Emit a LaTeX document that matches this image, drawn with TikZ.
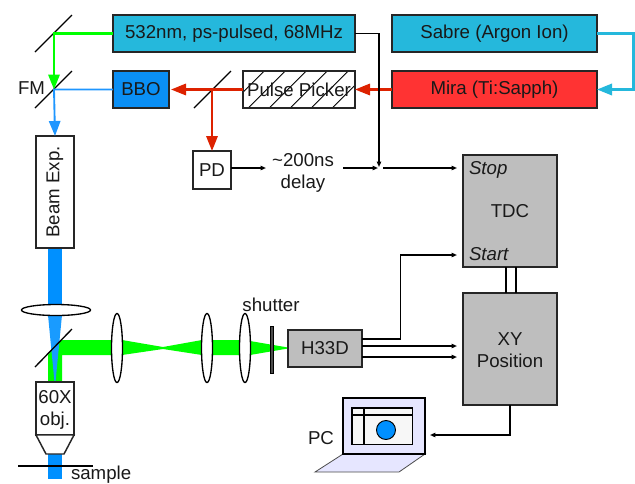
\documentclass[tikz,border=0pt]{standalone}
\usepackage{fontspec}
\setmainfont{Liberation Sans}
\usetikzlibrary{arrows.meta,calc}
\definecolor{lasercyan}{HTML}{25B8DC}
\definecolor{mirared}{HTML}{FF3333}
\definecolor{bboblue}{HTML}{0A8FF5}
\definecolor{beamblue}{HTML}{0090FF}
\definecolor{lineblue}{HTML}{1E96FF}
\definecolor{linered}{HTML}{DD2200}
\definecolor{beamgreen}{HTML}{00FF00}
\definecolor{boxgray}{HTML}{BEBEBE}
\definecolor{lavender2}{HTML}{E6E6FF}
\tikzset{
  x=0.75pt,y=-0.75pt,
  every node/.style={font=\fontsize{14}{16.5}\selectfont,inner sep=0pt,outer sep=0pt,align=center,text=black!90},
  size/.style 2 args={minimum width=#1*0.75pt,minimum height=#2*0.75pt},
  box/.style={draw=black!85,line width=1.1pt,rectangle},
  bigtip/.style={-{Triangle[length=11.25pt,width=8.5pt]}},
  smalltip/.style={-{Triangle[length=4pt,width=3.2pt]},black,line width=1.3pt},
  mirror/.style={black,line width=1pt},
  lens/.style={draw=black,line width=1pt,fill=white},
  wire/.style={black,line width=.9pt},
}
\begin{document}
\begin{tikzpicture}
\useasboundingbox (0,0) rectangle (635,483);
% beams
\fill[beamblue] (48,248) rectangle (62,305);
\fill[beamblue] (48,454) rectangle (62,479);
\fill[beamgreen] (61,340) -- (113,340) -- (113,355) -- (62,355) -- (62,382) -- (48,382) -- (48,355) -- cycle;
\fill[beamgreen] (117,340) -- (122,340) -- (163,347) -- (202,340) -- (245,340) -- (250,341) -- (288,347.5) -- (288,348.5) -- (250,355) -- (245,355) -- (202,355) -- (163,349) -- (122,355) -- (117,355) -- cycle;
\fill[beamblue!90!white] (48,315) -- (62,315) -- (55.5,382) -- (54.5,382) -- cycle;
% boxes
\node[box,size={242}{37},fill=lasercyan] (laser) at (234,33.5) {532nm, ps-pulsed, 68MHz};
\node[box,size={205}{37},fill=lasercyan] (sabre) at (494.5,33.5) {Sabre (Argon Ion)};
\node[box,size={205}{37},fill=mirared] (mira) at (494.5,89.5) {Mira (Ti:Sapph)};
\node[box,size={112}{37},fill=white] (picker) at (299,89.5) {};
\begin{scope}
\clip (243,71) rectangle (355,108);
\foreach \k in {0,...,7} \draw[black,line width=.6pt] ({227.3+21*\k},108) -- ({227.3+21*\k+37},71);
\end{scope}
\node[box,size={112}{37}] (pickerb) at (299,89.5) {Pulse Picker};
\node[box,size={56}{37},fill=bboblue] (bbo) at (141,89.5) {BBO};
\node[box,size={38}{38},fill=white] (pd) at (212,170) {PD};
\node[box,size={112}{38},fill=white,rotate=90] (bexp) at (55,192) {Beam Exp.};
\node[box,size={94}{112},fill=boxgray] (tdc) at (510,211) {TDC};
\node[box,size={94}{112},fill=boxgray,text depth=0pt] (xy) at (510,349) {};
\node[box,size={74}{37},fill=boxgray] (h33d) at (325,348.5) {H33D};
\node[box,size={38}{53},fill=white] (obj) at (55,408.5) {};
\draw[line width=1.1pt,draw=black!85,fill=white] (obj.south west) -- (46,454) -- (64,454) -- (obj.south east) -- cycle;
% labels
\node (xyl) at (510,350) {XY\\Position};
\node (objl) at (55,410) {60X\\obj.};
\node[anchor=west,font=\fontsize{14}{16.5}\selectfont\itshape] (stop) at (469,170) {Stop};
\node[anchor=west,font=\fontsize{14}{16.5}\selectfont\itshape] (start) at (469,254) {Start};
\node (fm) at (31.5,88) {FM};
\node (delay) at (303,172.5) {\textasciitilde200ns\\delay};
\node (shutterl) at (271,305) {shutter};
\node[anchor=west] (samplel) at (71,474.5) {sample};
\node (pcl) at (321,438) {PC};
% mirrors
\draw[mirror] (35,52) -- (72,15);
\draw[mirror] (35,108) -- (72,71);
\draw[mirror] (194,108) -- (231,71);
\draw[mirror] (35,367) -- (72,329);
% lenses
\draw[lens] (56,310) ellipse [x radius=34.5,y radius=5.5];
\draw[lens] (117,348) ellipse [x radius=5.5,y radius=34.5];
\draw[lens] (207,348) ellipse [x radius=5.5,y radius=34.5];
\draw[lens] (245,348) ellipse [x radius=5.5,y radius=34.5];
% shutter and sample
\fill[black!70,draw=black,line width=.4pt] (270,326) rectangle (273,373);
\draw[black,line width=1pt] (18,466) -- (93,466);
% coloured connectors
\coordinate (m1) at (54,33.5);
\coordinate (m2) at (54,89.5);
\coordinate (m3) at (212,89.5);
\draw[beamgreen,line width=1.7pt,bigtip] (laser.west) -- (m1) -- (m2);
\draw[lineblue,line width=1.4pt,bigtip] (bbo.west) -- (m2) -- (bexp.east);
\draw[linered,line width=1.6pt,bigtip] (pickerb.west) -- ([xshift=1.5pt]bbo.east);
\draw[linered,line width=1.6pt,bigtip] (m3) -- (pd.north);
\draw[linered,line width=1.6pt,bigtip] (mira.west) -- (pickerb.east);
\draw[lasercyan,line width=1.8pt,bigtip] (sabre.east) -- (633.5,33.5) |- (mira.east);
% black connectors
\coordinate (g1) at (266,168);
\coordinate (g2) at (343,168);
\coordinate (g3) at (378,168);
\coordinate (g4) at (383,168);
\coordinate (tstop) at (457,168);
\coordinate (tstart) at (457,255);
\coordinate (xy1) at (457,346);
\coordinate (xy2) at (457,357);
\coordinate (laptop) at (430,435);
\draw[smalltip] (pd.east |- g1) -- (g1);
\draw[smalltip] (g2) -- (g3);
\draw[smalltip] (g4) -- (tstop);
\draw[wire] (laser.east) -- (379,33.5) -- (379,90);
\draw[smalltip] (379,90) -- (379,167);
\draw[wire] (362,339) -- (400.5,339) -- (400.5,298);
\draw[smalltip] (400.5,298) |- (tstart);
\draw[smalltip] (362,346) -- (xy1);
\draw[smalltip] (362,357) -- (xy2);
\draw[wire] (xy.south) -- (510,435) -- (480,435);
\draw[smalltip] (480,435) -- (laptop);
\draw[wire] (506,267) -- (506,293);
\draw[wire] (516,267) -- (516,293);
% laptop
\draw[draw=black!70,fill=lavender2,line width=.6pt] (343,454) -- (425,454) -- (399,472) -- (315,472) -- cycle;
\draw[draw=black,fill=lavender2,line width=.9pt] (343,398) rectangle (425,454);
\draw[draw=black,fill=black!3,line width=.9pt] (352,408) rectangle (412.5,444.5);
\draw[black,line width=.9pt] (352,415) -- (412.5,415);
\draw[black,line width=.9pt] (364,408) -- (364,444.5);
\draw[draw=black,fill=beamblue,line width=.7pt] (386,430) circle [radius=9.5];
\end{tikzpicture}
\end{document}
